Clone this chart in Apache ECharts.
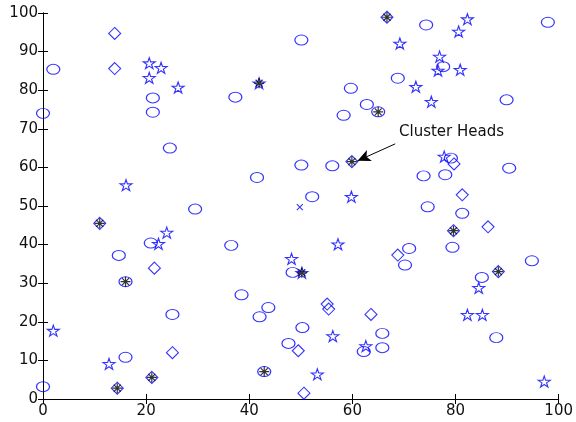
<!DOCTYPE html>
<html>
<head>
<meta charset="utf-8">
<script src="https://cdn.jsdelivr.net/npm/echarts@6/dist/echarts.min.js"></script>
<style>
  html, body { margin: 0; padding: 0; background: #fff; }
  #chart { width: 576px; height: 422px; }
</style>
</head>
<body>
<div id="chart"></div>
<script>
// node positions
const circles = [
  [0, 74], [2, 85.4], [21.3, 78], [21.3, 74.3], [24.6, 65], [50.1, 93], [37.3, 78.2],
  [59.7, 80.5], [62.8, 76.3], [58.3, 73.5], [74.3, 96.9], [97.9, 97.6], [68.8, 83.1],
  [77.6, 86.1], [89.9, 77.5], [29.5, 49.2], [20.9, 40.4], [14.7, 37.2], [50.1, 60.6],
  [56.1, 60.4], [41.5, 57.4], [52.2, 52.4], [36.5, 39.8], [48.4, 32.8], [79.1, 62.4],
  [90.4, 59.8], [73.8, 57.8], [78, 58.1], [74.6, 49.8], [81.3, 48.1], [71, 39],
  [79.4, 39.3], [70.2, 34.7], [94.8, 35.8], [85.1, 31.5], [25.1, 21.9], [16, 10.8],
  [0, 3.2], [38.5, 27], [43.7, 23.7], [42, 21.3], [50.3, 18.5], [47.6, 14.4],
  [62.2, 12.3], [65.8, 17], [65.8, 13.3], [87.9, 15.9]
]
const stars = [
  [20.6, 87], [22.9, 85.8], [20.6, 83.2], [26.2, 80.7], [82.3, 98.4], [80.6, 95.2],
  [69.2, 92.1], [76.9, 88.7], [76.6, 85.1], [80.9, 85.3], [72.3, 80.9], [75.3, 77],
  [16.1, 55.4], [22.4, 40.2], [24, 43.1], [59.8, 52.4], [57.2, 40.1], [48.2, 36.3],
  [77.8, 62.8], [2, 17.7], [12.8, 9.1], [56.2, 16.3], [62.6, 13.7], [53.2, 6.4],
  [84.5, 28.8], [82.3, 21.8], [85.2, 21.8], [97.2, 4.5]
]
const diamonds = [
  [13.9, 94.7], [13.9, 85.6], [21.6, 33.9], [79.7, 60.9], [81.3, 52.9], [86.3, 44.6],
  [68.8, 37.3], [25.1, 12], [55.1, 24.6], [55.4, 23.3], [63.6, 21.9], [49.5, 12.5],
  [50.6, 1.5]
]
const crosses = [[49.8, 49.7]]

// cluster heads, by the node marker under the asterisk
const headCircles = [[65, 74.4], [16, 30.4], [42.9, 7.1]]
const headStars = [[41.9, 81.8], [50.2, 32.7]]
const headDiamonds = [
  [66.7, 98.9], [59.9, 61.5], [11, 45.5], [79.6, 43.6], [88.3, 33], [14.4, 2.8], [21.1, 5.6]
]
const heads = headCircles.concat(headStars, headDiamonds)

const xTicks = [0, 20, 40, 60, 80, 100]
const yTicks = [0, 10, 20, 30, 40, 50, 60, 70, 80, 90, 100]

const arrowFrom = [68.3, 66.1]
const arrowTo = [61, 61.7]

const blue = '#0000ff'
const starPath = 'path://M0,-100L22.45,-30.9L95.1,-30.9L36.3,11.8L58.8,80.9L0,38.2L-58.8,80.9L-36.3,11.8L-95.1,-30.9L-22.45,-30.9Z'
const diamondPath = 'path://M0,-10L10,0L0,10L-10,0Z'
const asteriskPath = 'path://M0,-10L0,10M-10,0L10,0M-7,-7L7,7M-7,7L7,-7'
const crossPath = 'path://M-10,-10L10,10M-10,10L10,-10'

const hollow = (c) => ({ color: 'rgba(0,0,0,0)', borderColor: c, borderWidth: 1.1 })

function scatter(data, symbol, size, color) {
  return {
    type: 'scatter',
    data: data,
    symbol: symbol,
    symbolSize: size,
    itemStyle: hollow(color),
    silent: true,
    animation: false
  }
}

const axisCommon = {
  min: 0,
  max: 100,
  axisLine: { show: true, lineStyle: { color: '#000', width: 1 } },
  axisTick: { show: true, inside: true, length: 5, lineStyle: { color: '#000' } },
  splitLine: { show: false }
}

const chart = echarts.init(document.getElementById('chart'))
chart.setOption({
  animation: false,
  grid: { left: 43, right: 14, top: 13, bottom: 23 },
  xAxis: [
    Object.assign({}, axisCommon, {
      type: 'value', position: 'bottom', interval: 20,
      axisLabel: {
        color: '#111', fontSize: 15, fontFamily: 'DejaVu Sans', margin: 5,
        formatter: v => (xTicks.includes(v) ? String(v) : '')
      }
    }),
    Object.assign({}, axisCommon, {
      type: 'value', position: 'top', interval: 20, axisLabel: { show: false }
    })
  ],
  yAxis: [
    Object.assign({}, axisCommon, {
      type: 'value', position: 'left', interval: 10,
      axisLabel: {
        color: '#111', fontSize: 15, fontFamily: 'DejaVu Sans', margin: 5,
        formatter: v => (yTicks.includes(v) ? String(v) : '')
      }
    }),
    Object.assign({}, axisCommon, {
      type: 'value', position: 'right', interval: 10, axisLabel: { show: false }
    })
  ],
  series: [
    scatter(circles, 'circle', [13, 10], blue),
    scatter(stars, starPath, [12, 11], blue),
    scatter(diamonds, diamondPath, [12, 12], blue),
    scatter(crosses, crossPath, [6, 6], blue),
    scatter(headCircles, 'circle', [13, 10], blue),
    scatter(headStars, starPath, [12, 11], blue),
    scatter(headDiamonds, diamondPath, [12, 12], blue),
    {
      type: 'scatter',
      data: heads,
      symbol: asteriskPath,
      symbolSize: 10,
      itemStyle: { color: 'rgba(0,0,0,0)', borderColor: '#000', borderWidth: 1.2 },
      silent: true,
      markLine: {
        silent: true,
        symbol: ['none', 'arrow'],
        symbolSize: [9, 13],
        label: { show: false },
        lineStyle: { color: '#000', width: 1, type: 'solid' },
        data: [[{ coord: arrowFrom }, { coord: arrowTo }]]
      }
    }
  ],
  graphic: [{
    type: 'text',
    left: 399,
    top: 125,
    style: { text: 'Cluster Heads', fill: '#111', font: '15px "DejaVu Sans"' }
  }]
})
</script>
</body>
</html>
